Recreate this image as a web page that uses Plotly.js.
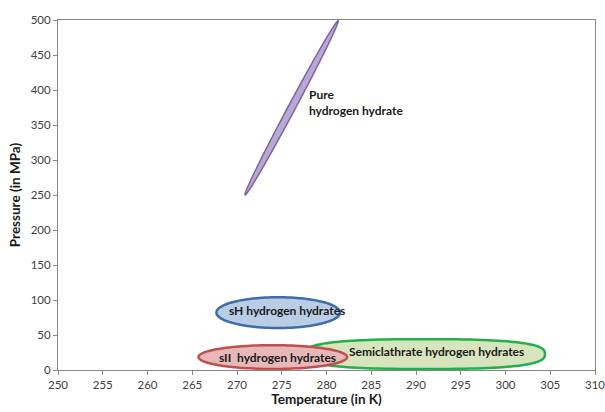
<!DOCTYPE html>
<html>
<head>
<meta charset="utf-8">
<script src="https://cdn.plot.ly/plotly-3.0.1.min.js"></script>
<style>html,body{margin:0;padding:0;background:#fff}#chart{width:605px;height:412px}</style>
</head>
<body>
<div id="chart"></div>
<script>
// Region names and extents (Temperature in K, Pressure in MPa)
const regionNames = ['Pure hydrogen hydrate', 'Semiclathrate hydrogen hydrates', 'sII hydrogen hydrates', 'sH hydrogen hydrates'];
const tLow  = [270.9, 277.6, 265.7, 267.7];
const tHigh = [281.3, 304.4, 282.3, 281.5];
const pLow  = [250, 1.5, 1.5, 60];
const pHigh = [499, 44, 35.5, 104];
// label texts and positions
const labelTexts = ['Pure<br>hydrogen hydrate', 'sH hydrogen hydrates', 'sII  hydrogen hydrates', 'Semiclathrate hydrogen hydrates'];
const labelT = [277.8, 275.6, 274.5, 292.3];
const labelP = [382, 85.5, 18, 26];
const xTicks = [250,255,260,265,270,275,280,285,290,295,300,305,310];
const yTicks = [0,50,100,150,200,250,300,350,400,450,500];

const fills = ['rgba(184,168,214,1)', 'rgba(215,228,189,1)', 'rgba(230,185,184,1)', 'rgba(185,205,229,1)'];
const borders = ['#8064a2', '#22b04a', '#c0504d', '#3e6ea8'];
const widths = [1.5, 2.5, 2.5, 2.5];

const W = 605, H = 412, M = {l: 58, r: 10, t: 20, b: 42};
const pxPerT = (W - M.l - M.r) / (xTicks[xTicks.length-1] - xTicks[0]);
const pxPerP = (H - M.t - M.b) / (yTicks[yTicks.length-1] - yTicks[0]);

function outline(i) {
  const xs = [], ys = [], N = 120;
  if (i === 0) {
    // diagonal elongated ellipse between (tLow,pLow) and (tHigh,pHigh)
    const cx = (tLow[i] + tHigh[i]) / 2, cy = (pLow[i] + pHigh[i]) / 2;
    const mx = (tHigh[i] - tLow[i]) / 2 * pxPerT, my = (pHigh[i] - pLow[i]) / 2 * pxPerP;
    const len = Math.hypot(mx, my), thick = 3.6;
    const nx = -my / len * thick, ny = mx / len * thick;
    for (let k = 0; k <= N; k++) {
      const a = 2 * Math.PI * k / N;
      const px = mx * Math.cos(a) + nx * Math.sin(a);
      const py = my * Math.cos(a) + ny * Math.sin(a);
      xs.push(cx + px / pxPerT); ys.push(cy + py / pxPerP);
    }
  } else {
    const cx = (tLow[i] + tHigh[i]) / 2, cy = (pLow[i] + pHigh[i]) / 2;
    const a = (tHigh[i] - tLow[i]) / 2, b = (pHigh[i] - pLow[i]) / 2;
    const n = (i === 1) ? 2.8 : 2.0;
    for (let k = 0; k <= N; k++) {
      const t = 2 * Math.PI * k / N;
      const c = Math.cos(t), s = Math.sin(t);
      xs.push(cx + a * Math.sign(c) * Math.pow(Math.abs(c), 2 / n));
      ys.push(cy + b * Math.sign(s) * Math.pow(Math.abs(s), 2 / n));
    }
  }
  return {xs, ys};
}

const traces = regionNames.map((name, i) => {
  const o = outline(i);
  return {
    x: o.xs, y: o.ys, name: name, type: 'scatter', mode: 'lines',
    fill: 'toself', fillcolor: fills[i],
    line: {color: borders[i], width: widths[i], shape: 'spline'},
    hoverinfo: 'name', showlegend: false
  };
});

const font = "Lato, 'Open Sans', sans-serif";
const annotations = labelTexts.map((txt, i) => ({
  x: labelT[i], y: labelP[i], xref: 'x', yref: 'y', text: txt, showarrow: false,
  xanchor: i === 0 ? 'left' : 'center', align: 'left',
  font: {family: font, size: 12, color: '#1a1a1a', weight: 'bold'}
}));

const axisCommon = {
  showgrid: false, zeroline: false, showline: true, linecolor: '#868686', linewidth: 1,
  mirror: true, ticks: 'outside', ticklen: 4, tickcolor: '#868686',
  tickfont: {family: font, size: 11.5, color: '#404040'}, fixedrange: true,
  ticklabeloverflow: 'allow'
};

const layout = {
  width: W, height: H, margin: M,
  paper_bgcolor: '#fff', plot_bgcolor: '#fff',
  xaxis: Object.assign({}, axisCommon, {
    range: [xTicks[0], xTicks[xTicks.length-1]], tickvals: xTicks, ticktext: xTicks.map(String),
    title: {text: 'Temperature (in K)', font: {family: font, size: 13.5, color: '#1a1a1a', weight: 'bold'}, standoff: 4}
  }),
  yaxis: Object.assign({}, axisCommon, {
    range: [yTicks[0], yTicks[yTicks.length-1]], tickvals: yTicks, ticktext: yTicks.map(String),
    title: {text: 'Pressure (in MPa)', font: {family: font, size: 13.5, color: '#1a1a1a', weight: 'bold'}, standoff: 6}
  }),
  annotations: annotations,
  showlegend: false
};

Plotly.newPlot('chart', traces, layout, {staticPlot: true, displayModeBar: false});
</script>
</body>
</html>
